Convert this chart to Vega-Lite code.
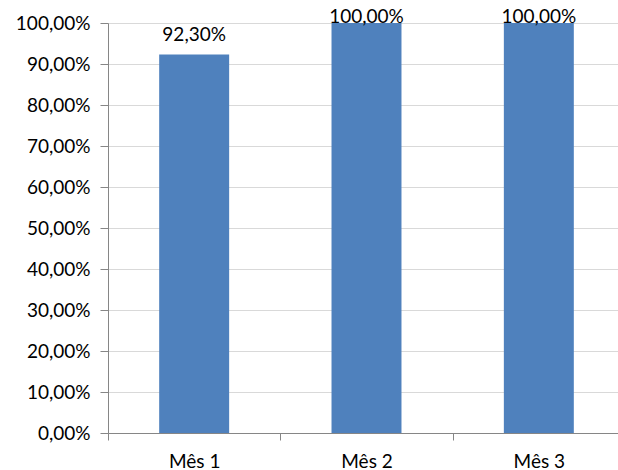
{
  "$schema": "https://vega.github.io/schema/vega-lite/v6.json",
  "autosize": "none",
  "width": 510,
  "height": 410,
  "padding": {"left": 108, "top": 23, "right": 0, "bottom": 37},
  "background": "white",
  "config": {
    "locale": {"number": {"decimal": ",", "thousands": ".", "grouping": [3], "currency": ["R$", ""]}},
    "view": {"stroke": null},
    "font": "Lato",
    "axis": {
      "labelFont": "Lato",
      "labelFontSize": 19,
      "labelColor": "#000000",
      "domainColor": "#868686",
      "tickColor": "#868686",
      "gridColor": "#D9D9D9",
      "title": null
    }
  },
  "data": {
    "values": [
      {"mes": "Mês 1", "valor": 0.923},
      {"mes": "Mês 2", "valor": 1.0},
      {"mes": "Mês 3", "valor": 1.0}
    ]
  },
  "encoding": {
    "x": {
      "field": "mes",
      "type": "nominal",
      "sort": null,
      "scale": {"range": [0, 517], "paddingInner": 0.594, "paddingOuter": 0.297},
      "axis": {
        "labelAngle": 0,
        "tickSize": 7,
        "tickOffset": -86.15,
        "labelOffset": 86.15,
        "labelPadding": 12,
        "grid": false
      }
    },
    "y": {
      "field": "valor",
      "type": "quantitative",
      "scale": {"domain": [0, 1], "nice": false},
      "axis": {
        "values": [0, 0.1, 0.2, 0.3, 0.4, 0.5, 0.6, 0.7, 0.8, 0.9, 1],
        "format": ".2%",
        "tickSize": 8,
        "labelPadding": 10,
        "grid": true
      }
    }
  },
  "layer": [
    {"mark": {"type": "bar", "color": "#4F81BD"}},
    {
      "mark": {
        "type": "text",
        "baseline": "alphabetic",
        "fontSize": 19,
        "font": "Lato",
        "color": "#000000",
        "dy": {"expr": "max(-14, -scale('y', datum.valor))"}
      },
      "encoding": {
        "text": {"field": "valor", "type": "quantitative", "format": ".2%"}
      }
    }
  ]
}
